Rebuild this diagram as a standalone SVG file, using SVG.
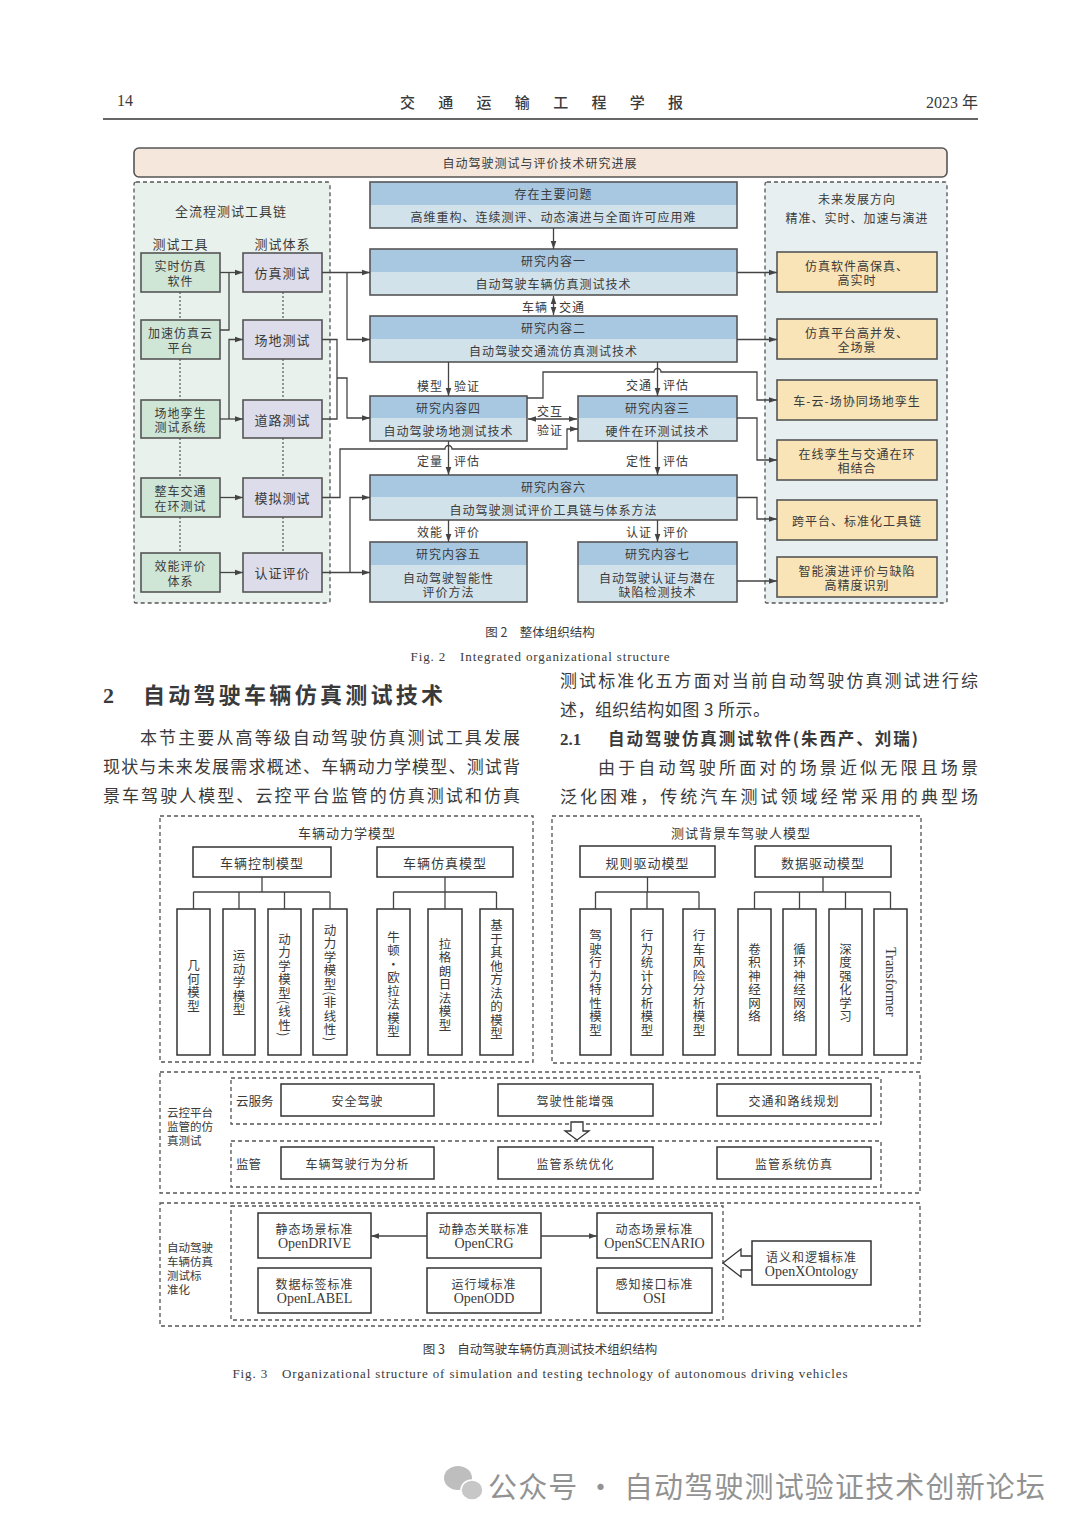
<svg xmlns="http://www.w3.org/2000/svg" width="1080" height="1529" viewBox="0 0 1080 1529">
<defs>
<style>
text{font-family:"Noto Sans CJK SC","Noto Sans",sans-serif;fill:#3a3a3a}
.m{text-anchor:middle;dominant-baseline:central}
.s12{font-size:12px;letter-spacing:1px}
.s13{font-size:13px;letter-spacing:1px}
.s125{font-size:12.5px;letter-spacing:1px}
.ser{font-family:"Liberation Serif","Noto Sans CJK SC",serif}
.ln{fill:none;stroke:#444;stroke-width:1.3}
.box{stroke:#555;stroke-width:1.6}
.g{fill:#cfe5d6}
.p{fill:#dcdceb}
.y{fill:#f8e4b6}
.bh{fill:#a8c8e2}
.bl{fill:#d2e2eb}
.dash{fill:none;stroke:#555;stroke-width:1.3;stroke-dasharray:4 3}
.dot{fill:none;stroke:#555;stroke-width:1.2;stroke-dasharray:2 2}
.wb{fill:#fff;stroke:#333;stroke-width:1.5}
.vt{writing-mode:vertical-rl;text-anchor:middle;font-size:12.5px;letter-spacing:1px}
.body{font-size:17px}
.lb{font-size:11.5px;dominant-baseline:central}
</style>
<marker id="a" viewBox="0 0 10 10" refX="10" refY="5" markerWidth="8" markerHeight="8" markerUnits="userSpaceOnUse" orient="auto-start-reverse"><path d="M0,1.5 L10,5 L0,8.5z" fill="#444"/></marker>
</defs>
<rect width="1080" height="1529" fill="#fff"/>

<!-- page header -->
<g id="page-header">
<text x="117" y="106" class="ser" font-size="16">14</text>
<text x="400" y="108" font-size="15" font-weight="500" textLength="283" lengthAdjust="spacing">交通运输工程学报</text>
<text x="978" y="108" class="ser" font-size="16" text-anchor="end">2023 年</text>
<line x1="103" y1="119" x2="978" y2="119" stroke="#333" stroke-width="1.5"/>
</g>

<!-- ================= Fig 2 ================= -->
<g id="f2-banner">
<rect x="134" y="148" width="813" height="29" rx="5" fill="#f6e7dc" stroke="#555" stroke-width="1.6"/>
<text x="540" y="162.5" class="m s12">自动驾驶测试与评价技术研究进展</text>
</g>

<g id="f2-left-panel">
<rect x="134" y="182" width="196" height="421" rx="2" fill="#e9f1ec" stroke="#555" stroke-width="1.3" stroke-dasharray="4 3"/>
<text x="231" y="210" class="m s13">全流程测试工具链</text>
<text x="180.5" y="243" class="m s13">测试工具</text>
<text x="282.5" y="243" class="m s13">测试体系</text>
<path class="dot" d="M180,292V320M180,359V400M180,438V478M180,517V553M283,292V320M283,359V400M283,438V478M283,517V553"/>
</g>
<g id="tool-1"><rect x="141" y="253" width="79" height="39" class="box g"/><text x="180.5" y="265.5" class="m s12">实时仿真</text><text x="180.5" y="280" class="m s12">软件</text></g>
<g id="tool-2"><rect x="141" y="320" width="79" height="39" class="box g"/><text x="180.5" y="332.5" class="m s12">加速仿真云</text><text x="180.5" y="347" class="m s12">平台</text></g>
<g id="tool-3"><rect x="141" y="400" width="79" height="38" class="box g"/><text x="180.5" y="412" class="m s12">场地孪生</text><text x="180.5" y="426.5" class="m s12">测试系统</text></g>
<g id="tool-4"><rect x="141" y="478" width="79" height="39" class="box g"/><text x="180.5" y="490.5" class="m s12">整车交通</text><text x="180.5" y="505" class="m s12">在环测试</text></g>
<g id="tool-5"><rect x="141" y="553" width="79" height="39" class="box g"/><text x="180.5" y="565.5" class="m s12">效能评价</text><text x="180.5" y="580" class="m s12">体系</text></g>
<g id="sys-1"><rect x="243" y="253" width="79" height="39" class="box p"/><text x="282.5" y="272.5" class="m s13">仿真测试</text></g>
<g id="sys-2"><rect x="243" y="320" width="79" height="39" class="box p"/><text x="282.5" y="339.5" class="m s13">场地测试</text></g>
<g id="sys-3"><rect x="243" y="400" width="79" height="38" class="box p"/><text x="282.5" y="419" class="m s13">道路测试</text></g>
<g id="sys-4"><rect x="243" y="478" width="79" height="39" class="box p"/><text x="282.5" y="497.5" class="m s13">模拟测试</text></g>
<g id="sys-5"><rect x="243" y="553" width="79" height="39" class="box p"/><text x="282.5" y="572.5" class="m s13">认证评价</text></g>

<g id="problem"><rect x="370" y="182" width="367" height="46" class="bl"/><rect x="370" y="182" width="367" height="23" class="bh"/><rect x="370" y="182" width="367" height="46" fill="none" class="box"/><text x="553.5" y="193.5" class="m s12">存在主要问题</text><text x="553.5" y="216.5" class="m s12">高维重构、连续测评、动态演进与全面许可应用难</text></g>
<g id="rc-1"><rect x="370" y="249" width="367" height="46" class="bl"/><rect x="370" y="249" width="367" height="23" class="bh"/><rect x="370" y="249" width="367" height="46" fill="none" class="box"/><text x="553.5" y="260.5" class="m s12">研究内容一</text><text x="553.5" y="283.5" class="m s12">自动驾驶车辆仿真测试技术</text></g>
<g id="rc-2"><rect x="370" y="316" width="367" height="46" class="bl"/><rect x="370" y="316" width="367" height="23" class="bh"/><rect x="370" y="316" width="367" height="46" fill="none" class="box"/><text x="553.5" y="327.5" class="m s12">研究内容二</text><text x="553.5" y="350.5" class="m s12">自动驾驶交通流仿真测试技术</text></g>
<g id="rc-4"><rect x="370" y="396" width="157" height="45" class="bl"/><rect x="370" y="396" width="157" height="22" class="bh"/><rect x="370" y="396" width="157" height="45" fill="none" class="box"/><text x="448.5" y="407" class="m s12">研究内容四</text><text x="448.5" y="430" class="m s12">自动驾驶场地测试技术</text></g>
<g id="rc-3"><rect x="578" y="396" width="159" height="45" class="bl"/><rect x="578" y="396" width="159" height="22" class="bh"/><rect x="578" y="396" width="159" height="45" fill="none" class="box"/><text x="657.5" y="407" class="m s12">研究内容三</text><text x="657.5" y="430" class="m s12">硬件在环测试技术</text></g>
<g id="rc-6"><rect x="370" y="475" width="367" height="45" class="bl"/><rect x="370" y="475" width="367" height="22" class="bh"/><rect x="370" y="475" width="367" height="45" fill="none" class="box"/><text x="553.5" y="486" class="m s12">研究内容六</text><text x="553.5" y="509" class="m s12">自动驾驶测试评价工具链与体系方法</text></g>
<g id="rc-5"><rect x="370" y="542" width="157" height="60" class="bl"/><rect x="370" y="542" width="157" height="23" class="bh"/><rect x="370" y="542" width="157" height="60" fill="none" class="box"/><text x="448.5" y="553.5" class="m s12">研究内容五</text><text x="448.5" y="577" class="m s12">自动驾驶智能性</text><text x="448.5" y="591.5" class="m s12">评价方法</text></g>
<g id="rc-7"><rect x="578" y="542" width="159" height="60" class="bl"/><rect x="578" y="542" width="159" height="23" class="bh"/><rect x="578" y="542" width="159" height="60" fill="none" class="box"/><text x="657.5" y="553.5" class="m s12">研究内容七</text><text x="657.5" y="577" class="m s12">自动驾驶认证与潜在</text><text x="657.5" y="591.5" class="m s12">缺陷检测技术</text></g>

<g id="f2-right-panel">
<rect x="765" y="182" width="182" height="421" rx="2" fill="#e7eff1" stroke="#555" stroke-width="1.3" stroke-dasharray="4 3"/>
<text x="857" y="198" class="m s12">未来发展方向</text>
<text x="857" y="217" class="m s12">精准、实时、加速与演进</text>
</g>
<g id="fut-1"><rect x="777" y="252" width="160" height="40" class="box y"/><text x="857" y="265" class="m s12">仿真软件高保真、</text><text x="857" y="279.5" class="m s12">高实时</text></g>
<g id="fut-2"><rect x="777" y="319" width="160" height="40" class="box y"/><text x="857" y="332" class="m s12">仿真平台高并发、</text><text x="857" y="346.5" class="m s12">全场景</text></g>
<g id="fut-3"><rect x="777" y="380" width="160" height="40" class="box y"/><text x="857" y="400" class="m s12">车-云-场协同场地孪生</text></g>
<g id="fut-4"><rect x="777" y="440" width="160" height="40" class="box y"/><text x="857" y="453" class="m s12">在线孪生与交通在环</text><text x="857" y="467.5" class="m s12">相结合</text></g>
<g id="fut-5"><rect x="777" y="500" width="160" height="40" class="box y"/><text x="857" y="520" class="m s12">跨平台、标准化工具链</text></g>
<g id="fut-6"><rect x="777" y="557" width="160" height="40" class="box y"/><text x="857" y="570" class="m s12">智能演进评价与缺陷</text><text x="857" y="584.5" class="m s12">高精度识别</text></g>

<g id="f2-connectors">
<path class="ln" marker-end="url(#a)" d="M220,272.5H243"/>
<path class="ln" d="M220,330H229V272.5"/>
<path class="ln" marker-end="url(#a)" d="M220,419H243"/>
<path class="ln" marker-end="url(#a)" d="M229,419V339.5H243"/>
<path class="ln" marker-end="url(#a)" d="M220,497.5H243"/>
<path class="ln" marker-end="url(#a)" d="M220,572.5H243"/>
<path class="ln" marker-end="url(#a)" d="M322,272.5H370"/>
<path class="ln" marker-end="url(#a)" d="M347,272.5V339.5H370"/>
<path class="ln" d="M322,339.5H337V419H322"/>
<path class="ln" marker-end="url(#a)" d="M337,378H347V418H370"/>
<path class="ln" marker-end="url(#a)" d="M322,497.5H340V449H445a3.5,3.5 0 0 1 7,0H567V429H578"/>
<path class="ln" marker-end="url(#a)" d="M322,572.5H370"/>
<path class="ln" marker-end="url(#a)" d="M350,572.5V497.5H370"/>
<path class="ln" marker-end="url(#a)" d="M553.5,228V249"/>
<path class="ln" marker-start="url(#a)" marker-end="url(#a)" d="M553.5,296V315"/>
<path class="ln" marker-end="url(#a)" d="M448.5,362V396"/>
<path class="ln" marker-end="url(#a)" d="M657.5,362V396"/>
<path class="ln" marker-end="url(#a)" d="M527,398H543V372H654a3.5,3.5 0 0 1 7,0H757V400H777"/>
<path class="ln" marker-start="url(#a)" marker-end="url(#a)" d="M528,419H577"/>
<path class="ln" marker-end="url(#a)" d="M737,418H757V460H777"/>
<path class="ln" marker-end="url(#a)" d="M448.5,441V475"/>
<path class="ln" marker-end="url(#a)" d="M657.5,441V475"/>
<path class="ln" marker-end="url(#a)" d="M737,497.5H757V519H777"/>
<path class="ln" marker-end="url(#a)" d="M448.5,520V542"/>
<path class="ln" marker-end="url(#a)" d="M657.5,520V542"/>
<path class="ln" marker-end="url(#a)" d="M737,581H777"/>
<path class="ln" marker-end="url(#a)" d="M737,272.5H777"/>
<path class="ln" marker-end="url(#a)" d="M737,339.5H777"/>
<text x="548" y="306" class="s12" text-anchor="end" dominant-baseline="central">车辆</text>
<text x="559" y="306" class="s12" dominant-baseline="central">交通</text>
<text x="443" y="385" class="s12" text-anchor="end" dominant-baseline="central">模型</text>
<text x="454" y="385" class="s12" dominant-baseline="central">验证</text>
<text x="652" y="384" class="s12" text-anchor="end" dominant-baseline="central">交通</text>
<text x="663" y="384" class="s12" dominant-baseline="central">评估</text>
<text x="550" y="410" class="m s12">交互</text>
<text x="550" y="429" class="m s12">验证</text>
<text x="443" y="460" class="s12" text-anchor="end" dominant-baseline="central">定量</text>
<text x="454" y="460" class="s12" dominant-baseline="central">评估</text>
<text x="652" y="460" class="s12" text-anchor="end" dominant-baseline="central">定性</text>
<text x="663" y="460" class="s12" dominant-baseline="central">评估</text>
<text x="443" y="531" class="s12" text-anchor="end" dominant-baseline="central">效能</text>
<text x="454" y="531" class="s12" dominant-baseline="central">评价</text>
<text x="652" y="531" class="s12" text-anchor="end" dominant-baseline="central">认证</text>
<text x="663" y="531" class="s12" dominant-baseline="central">评价</text>
</g>

<g id="f2-caption">
<text x="540" y="631" class="m" font-size="12.5">图 2　整体组织结构</text>
<text x="540" y="656" class="m ser" font-size="13" textLength="259" lengthAdjust="spacing">Fig. 2　Integrated organizational structure</text>
</g>

<!-- body text -->
<g id="body">
<text x="103" y="703" class="ser" font-size="22" font-weight="bold">2</text>
<text x="143" y="703" font-size="22" font-weight="bold" textLength="300" lengthAdjust="spacing">自动驾驶车辆仿真测试技术</text>
<text x="140" y="744" class="body" textLength="380" lengthAdjust="spacing">本节主要从高等级自动驾驶仿真测试工具发展</text>
<text x="103" y="773" class="body" textLength="417" lengthAdjust="spacing">现状与未来发展需求概述、车辆动力学模型、测试背</text>
<text x="103" y="802" class="body" textLength="417" lengthAdjust="spacing">景车驾驶人模型、云控平台监管的仿真测试和仿真</text>
<text x="560" y="687" class="body" textLength="418" lengthAdjust="spacing">测试标准化五方面对当前自动驾驶仿真测试进行综</text>
<text x="560" y="716" class="body" textLength="210" lengthAdjust="spacing">述，组织结构如图 3 所示。</text>
<text x="560" y="745" class="ser" font-size="17" font-weight="bold">2.1</text>
<text x="608" y="745" font-size="16.5" font-weight="bold" textLength="310" lengthAdjust="spacing">自动驾驶仿真测试软件(朱西产、刘瑞)</text>
<text x="598" y="774" class="body" textLength="380" lengthAdjust="spacing">由于自动驾驶所面对的场景近似无限且场景</text>
<text x="560" y="803" class="body" textLength="418" lengthAdjust="spacing">泛化困难，传统汽车测试领域经常采用的典型场</text>
</g>

<!-- ================= Fig 3 ================= -->
<g id="f3-vdm">
<rect x="160" y="816" width="373" height="246" class="dash"/>
<text x="347" y="832" class="m s13">车辆动力学模型</text>
</g>
<g id="vctrl"><rect x="193" y="847" width="138" height="30" class="wb"/><text x="262" y="862" class="m s13">车辆控制模型</text></g>
<g id="vsim"><rect x="377" y="847" width="136" height="30" class="wb"/><text x="445" y="862" class="m s13">车辆仿真模型</text></g>
<g id="leaf-1"><rect x="177" y="909" width="33" height="146" class="wb"/><text x="193.5" y="986" class="vt">几何模型</text></g>
<g id="leaf-2"><rect x="223" y="909" width="32" height="146" class="wb"/><text x="239" y="983" class="vt">运动学模型</text></g>
<g id="leaf-3"><rect x="268" y="909" width="33" height="146" class="wb"/><text x="284.5" y="985" class="vt">动力学模型(线性)</text></g>
<g id="leaf-4"><rect x="313" y="909" width="34" height="146" class="wb"/><text x="330" y="983" class="vt">动力学模型(非线性)</text></g>
<g id="leaf-5"><rect x="377" y="909" width="33" height="146" class="wb"/><text x="393.5" y="985" class="vt">牛顿·欧拉法模型</text></g>
<g id="leaf-6"><rect x="428" y="909" width="34" height="146" class="wb"/><text x="445" y="985" class="vt">拉格朗日法模型</text></g>
<g id="leaf-7"><rect x="480" y="909" width="33" height="146" class="wb"/><text x="496.5" y="980" class="vt">基于其他方法的模型</text></g>

<g id="f3-driver">
<rect x="552" y="816" width="369" height="247" class="dash"/>
<text x="741" y="832" class="m s13">测试背景车驾驶人模型</text>
</g>
<g id="rule"><rect x="580" y="846" width="135" height="31" class="wb"/><text x="647.5" y="862" class="m s13">规则驱动模型</text></g>
<g id="data"><rect x="755" y="846" width="136" height="31" class="wb"/><text x="823" y="862" class="m s13">数据驱动模型</text></g>
<g id="leaf-8"><rect x="580" y="909" width="31" height="146" class="wb"/><text x="595.5" y="983" class="vt">驾驶行为特性模型</text></g>
<g id="leaf-9"><rect x="631" y="909" width="32" height="146" class="wb"/><text x="647" y="983" class="vt">行为统计分析模型</text></g>
<g id="leaf-10"><rect x="683" y="909" width="32" height="146" class="wb"/><text x="699" y="983" class="vt">行车风险分析模型</text></g>
<g id="leaf-11"><rect x="738" y="909" width="33" height="146" class="wb"/><text x="754.5" y="983" class="vt">卷积神经网络</text></g>
<g id="leaf-12"><rect x="783" y="909" width="33" height="146" class="wb"/><text x="799.5" y="983" class="vt">循环神经网络</text></g>
<g id="leaf-13"><rect x="829" y="909" width="33" height="146" class="wb"/><text x="845.5" y="983" class="vt">深度强化学习</text></g>
<g id="leaf-14"><rect x="874" y="909" width="33" height="146" class="wb"/><text x="890.5" y="982" class="vt ser" style="font-size:14px;letter-spacing:0">Transformer</text></g>

<g id="f3-tree-connectors">
<path class="ln" stroke="#333" d="M262,877V892M193.5,892H330M193.5,892V909M239,892V909M284.5,892V909M330,892V909"/>
<path class="ln" stroke="#333" d="M445,877V892M393.5,892H496.5M393.5,892V909M445,892V909M496.5,892V909"/>
<path class="ln" stroke="#333" d="M647.5,877V892M595.5,892H699M595.5,892V909M647,892V909M699,892V909"/>
<path class="ln" stroke="#333" d="M823,877V892M754.5,892H890.5M754.5,892V909M799.5,892V909M845.5,892V909M890.5,892V909"/>
</g>

<g id="f3-cloud">
<rect x="160" y="1072" width="760" height="121" class="dash"/>
<text x="167" y="1112" class="lb">云控平台</text>
<text x="167" y="1126" class="lb">监管的仿</text>
<text x="167" y="1140" class="lb">真测试</text>
<rect x="231" y="1078" width="650" height="46" class="dash"/>
<text x="236" y="1100" font-size="12.5" dominant-baseline="central">云服务</text>
<rect x="231" y="1141" width="650" height="46" class="dash"/>
<text x="236" y="1163" font-size="12.5" dominant-baseline="central">监管</text>
<polygon points="571,1122 583,1122 583,1131 589,1131 577,1140 565,1131 571,1131" fill="#fff" stroke="#333" stroke-width="1.3"/>
</g>
<g id="cs-1"><rect x="281" y="1084" width="153" height="32" class="wb"/><text x="357.5" y="1100" class="m s12">安全驾驶</text></g>
<g id="cs-2"><rect x="498" y="1084" width="155" height="32" class="wb"/><text x="575.5" y="1100" class="m s12">驾驶性能增强</text></g>
<g id="cs-3"><rect x="717" y="1084" width="154" height="32" class="wb"/><text x="794" y="1100" class="m s12">交通和路线规划</text></g>
<g id="sv-1"><rect x="281" y="1147" width="153" height="32" class="wb"/><text x="357.5" y="1163" class="m s12">车辆驾驶行为分析</text></g>
<g id="sv-2"><rect x="498" y="1147" width="155" height="32" class="wb"/><text x="575.5" y="1163" class="m s12">监管系统优化</text></g>
<g id="sv-3"><rect x="717" y="1147" width="154" height="32" class="wb"/><text x="794" y="1163" class="m s12">监管系统仿真</text></g>

<g id="f3-std">
<rect x="160" y="1203" width="760" height="123" class="dash"/>
<text x="167" y="1247" class="lb">自动驾驶</text>
<text x="167" y="1261" class="lb">车辆仿真</text>
<text x="167" y="1275" class="lb">测试标</text>
<text x="167" y="1289" class="lb">准化</text>
<rect x="231" y="1206" width="492" height="114" class="dash"/>
<polygon points="752,1256 741,1256 741,1249 723,1263 741,1277 741,1270 752,1270" fill="#fff" stroke="#333" stroke-width="1.3"/>
</g>
<g id="std-1"><rect x="258" y="1213" width="113" height="45" class="wb"/><text x="314.5" y="1228" class="m s12">静态场景标准</text><text x="314.5" y="1243" class="m ser" font-size="14">OpenDRIVE</text></g>
<g id="std-2"><rect x="427" y="1213" width="114" height="45" class="wb"/><text x="484" y="1228" class="m s12">动静态关联标准</text><text x="484" y="1243" class="m ser" font-size="14">OpenCRG</text></g>
<g id="std-3"><rect x="597" y="1213" width="115" height="45" class="wb"/><text x="654.5" y="1228" class="m s12">动态场景标准</text><text x="654.5" y="1243" class="m ser" font-size="14">OpenSCENARIO</text></g>
<g id="std-4"><rect x="258" y="1268" width="113" height="45" class="wb"/><text x="314.5" y="1283" class="m s12">数据标签标准</text><text x="314.5" y="1298" class="m ser" font-size="14">OpenLABEL</text></g>
<g id="std-5"><rect x="427" y="1268" width="114" height="45" class="wb"/><text x="484" y="1283" class="m s12">运行域标准</text><text x="484" y="1298" class="m ser" font-size="14">OpenODD</text></g>
<g id="std-6"><rect x="597" y="1268" width="115" height="45" class="wb"/><text x="654.5" y="1283" class="m s12">感知接口标准</text><text x="654.5" y="1298" class="m ser" font-size="14">OSI</text></g>
<g id="std-7"><rect x="752" y="1241" width="119" height="44" class="wb"/><text x="811.5" y="1256" class="m s12">语义和逻辑标准</text><text x="811.5" y="1271" class="m ser" font-size="14">OpenXOntology</text></g>
<g id="f3-std-connectors">
<path class="ln" stroke="#333" marker-end="url(#a)" d="M427,1236H371"/>
<path class="ln" stroke="#333" marker-end="url(#a)" d="M541,1236H597"/>
</g>

<g id="f3-caption">
<text x="540" y="1348" class="m" font-size="12.5">图 3　自动驾驶车辆仿真测试技术组织结构</text>
<text x="540" y="1373" class="m ser" font-size="13" textLength="615" lengthAdjust="spacing">Fig. 3　Organizational structure of simulation and testing technology of autonomous driving vehicles</text>
</g>

<g id="watermark" opacity="0.55">
<ellipse cx="458" cy="1478" rx="14" ry="12" fill="#8a8a8a"/>
<ellipse cx="472" cy="1490" rx="11" ry="10" fill="#9a9a9a" stroke="#fff" stroke-width="1.5"/>
<text x="488" y="1498" font-size="29" fill="#555" textLength="557" lengthAdjust="spacing">公众号 · 自动驾驶测试验证技术创新论坛</text>
</g>
</svg>
